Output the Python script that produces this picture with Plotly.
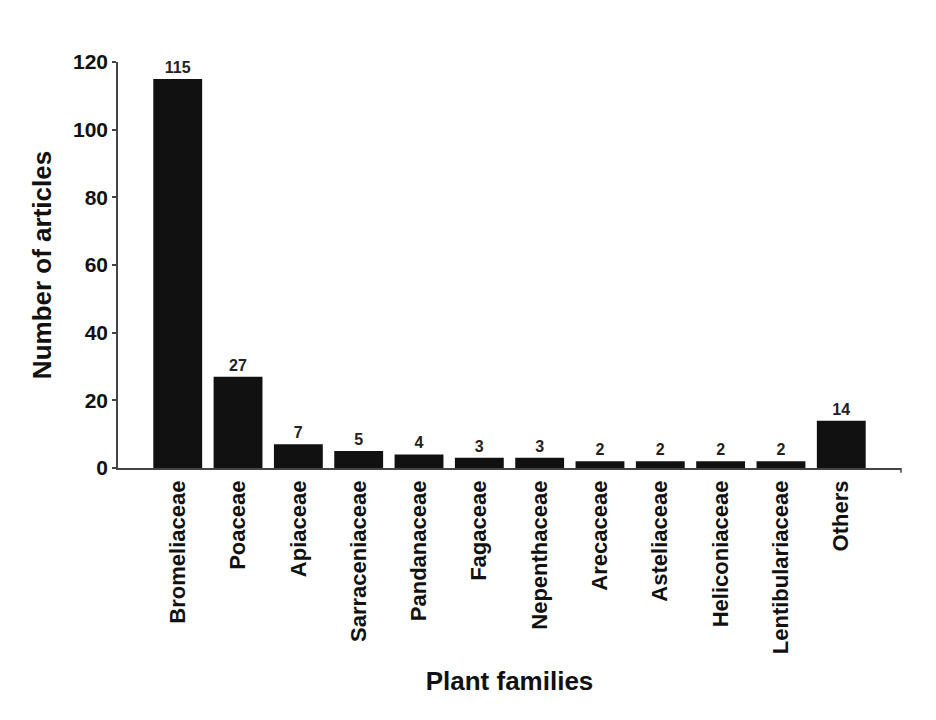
import plotly.graph_objects as go

families = ["Bromeliaceae", "Poaceae", "Apiaceae", "Sarraceniaceae", "Pandanaceae",
            "Fagaceae", "Nepenthaceae", "Arecaceae", "Asteliaceae", "Heliconiaceae",
            "Lentibulariaceae", "Others"]
articles = [115, 27, 7, 5, 4, 3, 3, 2, 2, 2, 2, 14]
y_ticks = [0, 20, 40, 60, 80, 100, 120]

FONT = "Liberation Sans, Arial, sans-serif"

fig = go.Figure(go.Bar(
    x=families, y=articles,
    marker=dict(color="#111111", line=dict(width=0)),
    text=[str(v) for v in articles],
    textposition="outside",
    textfont=dict(family=FONT, size=16, color="#222", weight="bold"),
    cliponaxis=False,
))

fig.update_layout(
    width=936, height=720,
    margin=dict(l=110, r=43, t=54, b=260),
    paper_bgcolor="white", plot_bgcolor="white",
    bargap=0.19,
    showlegend=False,
    font=dict(family=FONT, color="#111"),
)
fig.update_xaxes(
    range=[-0.99, 11.99],
    showline=True, linecolor="#444", linewidth=1.5,
    ticks="", tickangle=-90,
    tickfont=dict(family=FONT, size=22, color="#111", weight="bold"),
    ticklabelstandoff=2,
    showgrid=False, zeroline=False,
    title=dict(text="Plant families", font=dict(family=FONT, size=26, color="#111", weight="bold"), standoff=19),
)
fig.update_yaxes(
    range=[0, 120], tickvals=y_ticks,
    showline=True, linecolor="#444", linewidth=1.5,
    ticks="outside", ticklen=4, tickcolor="#444", tickwidth=1.5,
    tickfont=dict(family=FONT, size=21, color="#111", weight="bold"),
    showgrid=False, zeroline=False,
    title=dict(text="Number of articles", font=dict(family=FONT, size=26, color="#111", weight="bold"), standoff=14),
)
# small end tick on x axis
fig.add_shape(type="line", xref="paper", yref="paper", x0=1, x1=1, y0=0, y1=-0.012,
              line=dict(color="#444", width=1.5))

fig.write_html("out.html")
